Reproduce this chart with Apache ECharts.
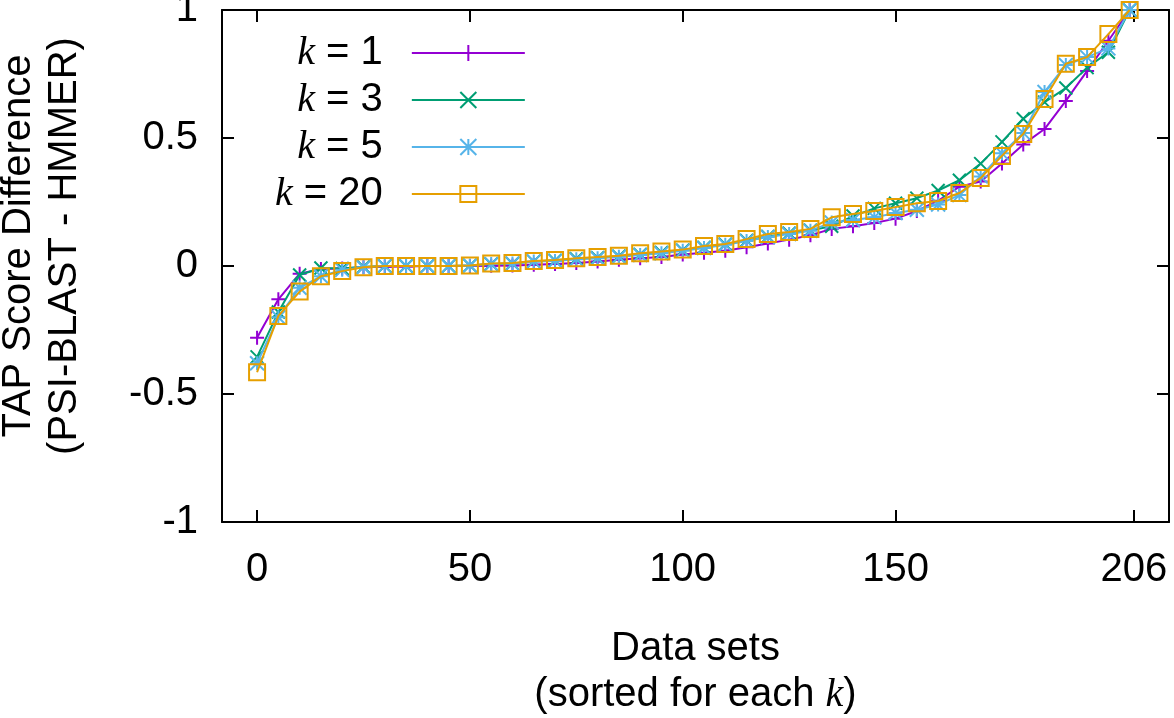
<!DOCTYPE html>
<html><head><meta charset="utf-8">
<script src="https://cdn.jsdelivr.net/npm/echarts@6/dist/echarts.min.js"></script>
<style>html,body{margin:0;padding:0;background:#fff}#c{width:1174px;height:718px}</style>
</head><body><div id="c"></div>
<script>
// x positions (data set index) of the plotted points
const dataSets = [0,5,10,15,20,25,30,35,40,45,50,55,60,65,70,75,80,85,90,95,100,105,110,115,120,125,130,135,140,145,150,155,160,165,170,175,180,185,190,195,200,205];
const k1 = [-0.28,-0.13,-0.03,-0.012,-0.01,-0.005,-0.003,-0.002,0,0,0,0.001,0.002,0.005,0.008,0.012,0.018,0.024,0.03,0.035,0.045,0.052,0.06,0.073,0.088,0.103,0.12,0.145,0.155,0.168,0.185,0.215,0.255,0.31,0.33,0.40,0.475,0.535,0.645,0.762,0.88,1.0];
const k3 = [-0.355,-0.18,-0.035,-0.008,-0.01,-0.003,0,0,0,0,0.002,0.008,0.01,0.018,0.022,0.028,0.032,0.038,0.045,0.053,0.062,0.072,0.085,0.1,0.115,0.128,0.14,0.155,0.195,0.225,0.245,0.265,0.295,0.335,0.40,0.485,0.575,0.64,0.695,0.775,0.835,1.0];
const k5 = [-0.38,-0.2,-0.085,-0.04,-0.015,-0.005,0,0,0,0,0.002,0.008,0.01,0.018,0.02,0.026,0.03,0.036,0.043,0.05,0.06,0.07,0.083,0.098,0.113,0.125,0.138,0.17,0.18,0.19,0.207,0.22,0.24,0.277,0.35,0.44,0.52,0.68,0.785,0.816,0.85,1.0];
const k20 = [-0.415,-0.195,-0.1,-0.04,-0.02,-0.005,0,0,0,0,0.002,0.01,0.012,0.02,0.023,0.03,0.035,0.04,0.05,0.057,0.064,0.078,0.086,0.105,0.125,0.133,0.145,0.19,0.203,0.215,0.23,0.245,0.254,0.285,0.344,0.43,0.516,0.652,0.79,0.816,0.906,1.0];
const seriesNames = ['k = 1','k = 3','k = 5','k = 20'];
const xTicks = [0,50,100,150,206];
const yTicks = [-1,-0.5,0,0.5,1];

const colors = ['#9400d3','#009e73','#56b4e9','#e69f00'];
const symbols = [
  'path://M5,0L5,10M0,5L10,5',
  'path://M0,0L10,10M10,0L0,10',
  'path://M5,0L5,10M0,5L10,5M0,0L10,10M10,0L0,10',
  'path://M0,0L10,0L10,10L0,10Z'
];
const sizes = [14,13,14,16];
const values = [k1,k3,k5,k20];

const FONT = 'Liberation Sans';
const FS = 40;
const chart = echarts.init(document.getElementById('c'), null, {renderer:'canvas'});

const series = values.map((vals, i) => ({
  name: seriesNames[i],
  type: 'line',
  xAxisIndex: 0, yAxisIndex: 0,
  data: dataSets.map((x, j) => [x, vals[j]]),
  symbol: symbols[i],
  symbolSize: sizes[i],
  showAllSymbol: true,
  lineStyle: {color: colors[i], width: 2},
  itemStyle: {color: 'rgba(0,0,0,0)', borderColor: colors[i], borderWidth: 2},
  emphasis: {disabled: true},
  z: 2 + i
}));

const tickStyle = {show: true, inside: true, length: 12, lineStyle: {color: '#000', width: 2}};
const lineAx = {show: true, onZero: false, lineStyle: {color: '#000', width: 2}};

chart.setOption({
  animation: false,
  backgroundColor: '#fff',
  grid: {left: 222, right: 5, top: 10, bottom: 196, containLabel: false, outerBoundsMode: 'none'},
  xAxis: [
    {type: 'value', position: 'bottom', min: -8.24, max: 214.24,
     axisLine: lineAx, splitLine: {show: false},
     axisTick: Object.assign({}, tickStyle, {customValues: xTicks}),
     axisLabel: {customValues: xTicks, fontFamily: FONT, fontSize: FS, color: '#000', margin: 28},
     name: 'Data sets\n(sorted for each {i|k})', nameLocation: 'middle', nameGap: 104,
     nameTextStyle: {fontFamily: FONT, fontSize: FS, color: '#000', lineHeight: 46,
       rich: {i: {fontFamily: 'Liberation Serif', fontStyle: 'italic', fontSize: FS, lineHeight: 46}}}
    },
    {type: 'value', position: 'top', min: -8.24, max: 214.24,
     axisLine: lineAx, splitLine: {show: false},
     axisTick: Object.assign({}, tickStyle, {customValues: xTicks}),
     axisLabel: {show: false, customValues: xTicks}}
  ],
  yAxis: [
    {type: 'value', position: 'left', min: -1, max: 1, interval: 0.5,
     axisLine: lineAx, splitLine: {show: false}, axisTick: tickStyle,
     axisLabel: {fontFamily: FONT, fontSize: FS, color: '#000', margin: 24, padding: [8,0,0,0]},
     name: 'TAP Score Difference\n(PSI-BLAST - HMMER)', nameLocation: 'middle', nameGap: 134,
     nameTextStyle: {fontFamily: FONT, fontSize: FS, color: '#000', lineHeight: 46, padding: [0,0,0,40]}
    },
    {type: 'value', position: 'right', min: -1, max: 1, interval: 0.5,
     axisLine: lineAx, splitLine: {show: false}, axisTick: tickStyle,
     axisLabel: {show: false}}
  ],
  legend: {
    orient: 'vertical', left: 275, top: 33, align: 'right', padding: 0,
    itemWidth: 113, itemHeight: 20, itemGap: 7,
    data: seriesNames,
    selectedMode: false,
    formatter: function (name) { return '{i|k} = ' + name.split('=')[1].trim(); },
    textStyle: {fontFamily: FONT, fontSize: FS, color: '#000', lineHeight: 40, padding: [0,24,0,0],
      rich: {i: {fontFamily: 'Liberation Serif', fontStyle: 'italic', fontSize: FS, lineHeight: 40}}}
  },
  series: series
});
</script>
</body></html>
